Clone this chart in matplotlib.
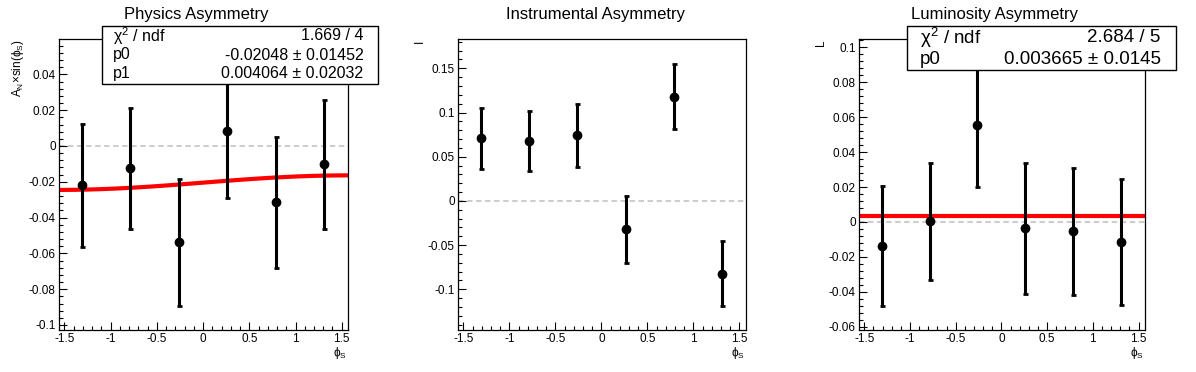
import numpy as np
import matplotlib
matplotlib.use("Agg")
import matplotlib.pyplot as plt
from matplotlib.ticker import MultipleLocator, FuncFormatter
from matplotlib.patches import Rectangle

plt.rcParams['font.family'] = ['Liberation Sans', 'DejaVu Sans']
plt.rcParams['mathtext.fontset'] = 'custom'
plt.rcParams['mathtext.rm'] = 'Liberation Sans'
plt.rcParams['mathtext.it'] = 'Liberation Sans:italic'
plt.rcParams['mathtext.sf'] = 'Liberation Sans'
plt.rcParams['axes.unicode_minus'] = False

# ---------------- data ----------------
phi_centers = [-1.309, -0.785, -0.262, 0.262, 0.785, 1.309]

phys_y = [-0.0220, -0.0125, -0.0539, 0.0082, -0.0315, -0.0103]
phys_err = [0.0345, 0.0337, 0.0355, 0.0373, 0.0365, 0.0362]
phys_p0 = -0.02048
phys_p1 = 0.004064

inst_y = [0.0708, 0.0674, 0.0742, -0.0321, 0.1179, -0.0824]
inst_err = [0.0348, 0.0338, 0.0357, 0.0381, 0.0369, 0.0370]

lumi_y = [-0.0140, 0.0003, 0.0553, -0.0037, -0.0054, -0.0117]
lumi_err = [0.0344, 0.0337, 0.0351, 0.0377, 0.0365, 0.0360]
lumi_p0 = 0.003665

titles = ["Physics Asymmetry", "Instrumental Asymmetry", "Luminosity Asymmetry"]
ylabels = [r"$\mathregular{A_{N}{\times}sin(\phi_{S})}$", "I", "L"]
xlabel = r"$\mathregular{\phi_{S}}$"

phys_stats = [(r"$\mathregular{\chi^{2}}$ / ndf", "1.669 / 4"),
              ("p0", "-0.02048 ± 0.01452"),
              ("p1", "0.004064 ± 0.02032")]
lumi_stats = [(r"$\mathregular{\chi^{2}}$ / ndf", "2.684 / 5"),
              ("p0", "0.003665 ± 0.0145")]

# ---------------- layout ----------------
W, H = 1196, 372
fig = plt.figure(figsize=(W / 100, H / 100), dpi=100)

def px_axes(l, r, t, b):
    return fig.add_axes([l / W, 1 - b / H, (r - l) / W, (b - t) / H])

ax1 = px_axes(59.3, 348.3, 39.3, 330.0)
ax2 = px_axes(458.3, 746.0, 39.3, 330.0)
ax3 = px_axes(859.3, 1145.0, 39.3, 330.0)

def _fmt(v, p):
    if abs(v) < 1e-9:
        return "0"
    return "%g" % round(v, 6)

fmt = FuncFormatter(_fmt)

def style(ax, ylim, ymajor, yminor):
    ax.set_xlim(-1.555, 1.571)
    ax.set_ylim(*ylim)
    ax.xaxis.set_major_locator(MultipleLocator(0.5))
    ax.xaxis.set_minor_locator(MultipleLocator(0.1))
    ax.yaxis.set_major_locator(MultipleLocator(ymajor))
    ax.yaxis.set_minor_locator(MultipleLocator(yminor))
    ax.xaxis.set_major_formatter(fmt)
    ax.yaxis.set_major_formatter(fmt)
    ax.tick_params(which='both', direction='in', top=False, right=False,
                   width=0.8, labelsize=8.5, pad=2.5)
    ax.tick_params(which='major', length=5.5)
    ax.tick_params(which='minor', length=2.8)
    for s in ax.spines.values():
        s.set_linewidth(0.9)
    ax.axhline(0, color='#c8c8c8', lw=1.3, ls=(0, (3, 2)), zorder=1)

def points(ax, y, err):
    ax.errorbar(phi_centers, y, yerr=err, fmt='o', color='black', ms=6,
                elinewidth=2.2, capsize=1.8, capthick=2.0, zorder=3)

style(ax1, (-0.1028, 0.0596), 0.02, 0.004)
style(ax2, (-0.146, 0.1828), 0.05, 0.01)
style(ax3, (-0.0619, 0.1046), 0.02, 0.004)

points(ax1, phys_y, phys_err)
points(ax2, inst_y, inst_err)
points(ax3, lumi_y, lumi_err)

# fit functions: p0 + p1*sin(phi_S) and p0
xf = np.linspace(-np.pi / 2, np.pi / 2, 100)
ax1.plot(xf, phys_p0 + phys_p1 * np.sin(xf), color='red', lw=3, zorder=2)
ax3.plot(xf, np.full_like(xf, lumi_p0), color='red', lw=3, zorder=2)

for ax, lab, off in zip([ax1, ax2, ax3], ylabels, [41, 38, 38]):
    pos = ax.get_position()
    w_px = pos.width * W
    h_px = pos.height * H
    ax.text(-off / w_px, 1.0, lab, rotation=90, transform=ax.transAxes,
            ha='center', va='top', fontsize=8.5)
    ax.text(0.995, -15.0 / h_px, xlabel, transform=ax.transAxes, ha='right',
            va='top', fontsize=8.5)

for t, cx in zip(titles, [196.7, 596.0, 995.0]):
    fig.text(cx / W, 1 - 15 / H, t, ha='center', va='center', fontsize=12)

def statbox(l, r, t, b, rows, ys, tx_l, tx_r, fs):
    fig.patches.append(Rectangle((l / W, 1 - b / H), (r - l) / W, (b - t) / H,
                                 transform=fig.transFigure, facecolor='white',
                                 edgecolor='black', lw=1.0, zorder=5))
    for (a, v), y in zip(rows, ys):
        fig.text(tx_l / W, 1 - y / H, a, ha='left', va='center', fontsize=fs, zorder=6)
        fig.text(tx_r / W, 1 - y / H, v, ha='right', va='center', fontsize=fs, zorder=6)

statbox(101.7, 378.3, 26, 84, phys_stats, [35.7, 55.0, 73.3], 113.3, 363.3, 11.5)
statbox(907.3, 1175.7, 26, 70, lumi_stats, [37.5, 60.0], 920.0, 1160.7, 13.5)

fig.savefig("out.png", dpi=100)
